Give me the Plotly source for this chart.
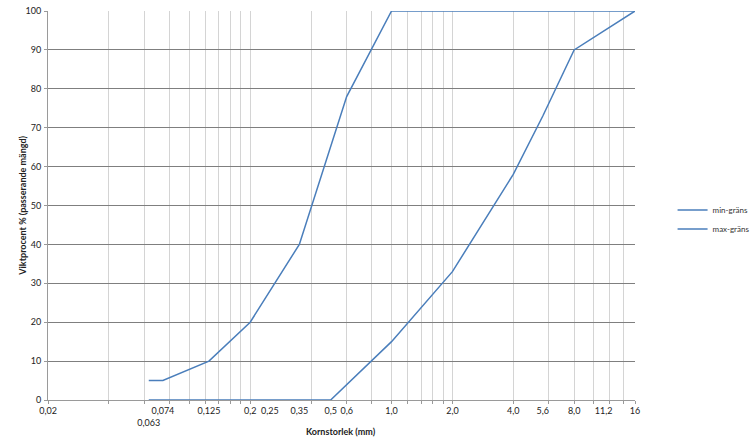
import plotly.graph_objects as go

# Sieve sizes (mm)
sizes = [0.063, 0.074, 0.125, 0.2, 0.25, 0.35, 0.5, 0.6, 1.0, 2.0, 4.0, 5.6, 8.0, 11.2, 16]
# Percent passing (None = no break point)
max_grans = [5, 5, 10, 20, None, 40, None, 78, 100, 100, 100, 100, 100, 100, 100]
min_grans = [0, 0, 0, 0, 0, 0, 0, None, 15, 33, 58, 73, 90, None, 100]

tick_vals = [0.02, 0.063, 0.074, 0.125, 0.2, 0.25, 0.35, 0.5, 0.6, 1.0, 2.0, 4.0, 5.6, 8.0, 11.2, 16]
tick_text = ["0,02", "<br>0,063", "0,074", "0,125", "0,2", "0,25", "0,35", "0,5", "0,6",
             "1,0", "2,0", "4,0", "5,6", "8,0", "11,2", "16"]

x_title = "Kornstorlek (mm)"
y_title = "Viktprocent % (passerande mängd)"

grid_vals = [m * k for m in (0.02, 0.2, 2.0) for k in range(1, 10) if m * k <= 16.0001]

blue = "#4A7EBB"
font = "Lato, 'Open Sans', sans-serif"

fig = go.Figure()
fig.add_trace(go.Scatter(x=sizes, y=min_grans, name="min-gräns", mode="lines",
                         line=dict(color=blue, width=1.5), connectgaps=True))
fig.add_trace(go.Scatter(x=sizes, y=max_grans, name="max-gräns", mode="lines",
                         line=dict(color=blue, width=1.5), connectgaps=True))

fig.update_layout(
    width=751, height=442,
    margin=dict(l=48, r=116, t=11, b=42, autoexpand=False),
    paper_bgcolor="white", plot_bgcolor="white",
    font=dict(family=font, size=9, color="#222"),
    showlegend=True,
    legend=dict(x=1.064, y=0.464, xanchor="left", yanchor="middle",
                font=dict(size=8, color="#333"), itemwidth=30,
                bgcolor="rgba(0,0,0,0)", tracegroupgap=0),
    xaxis=dict(
        type="log", range=[0.30103 - 2, 1.20412],
        tickmode="array", tickvals=tick_vals, ticktext=tick_text,
        tickangle=0, automargin=False, ticklabelstandoff=2,
        showgrid=False, ticks="", tickfont=dict(size=9),
        showline=True, linecolor="#9a9a9a", linewidth=1,
        zeroline=False,
        minor=dict(tickmode="array", tickvals=grid_vals, showgrid=True,
                   gridcolor="#D4D4D4", gridwidth=1, ticks="outside",
                   ticklen=3, tickcolor="#9a9a9a"),
    ),
    yaxis=dict(
        range=[0, 100], tick0=0, dtick=10, automargin=False, ticklabelstandoff=1,
        showgrid=True, gridcolor="#7F7F7F", gridwidth=1,
        showline=True, linecolor="#9a9a9a", linewidth=1,
        zeroline=False, ticks="outside", ticklen=3, tickcolor="#9a9a9a",
        tickfont=dict(size=9),
    ),
    annotations=[
        dict(text="<b>" + x_title + "</b>", xref="paper", yref="paper",
             x=0.499, y=-0.082, xanchor="center", yanchor="middle",
             showarrow=False, font=dict(size=9)),
        dict(text="<b>" + y_title + "</b>", xref="paper", yref="paper",
             x=-0.044, y=0.5, xanchor="center", yanchor="middle", textangle=-90,
             showarrow=False, font=dict(size=9)),
    ],
)

fig.write_html("out.html", config={"displayModeBar": False},
               post_script="document.body.style.margin='0';")
